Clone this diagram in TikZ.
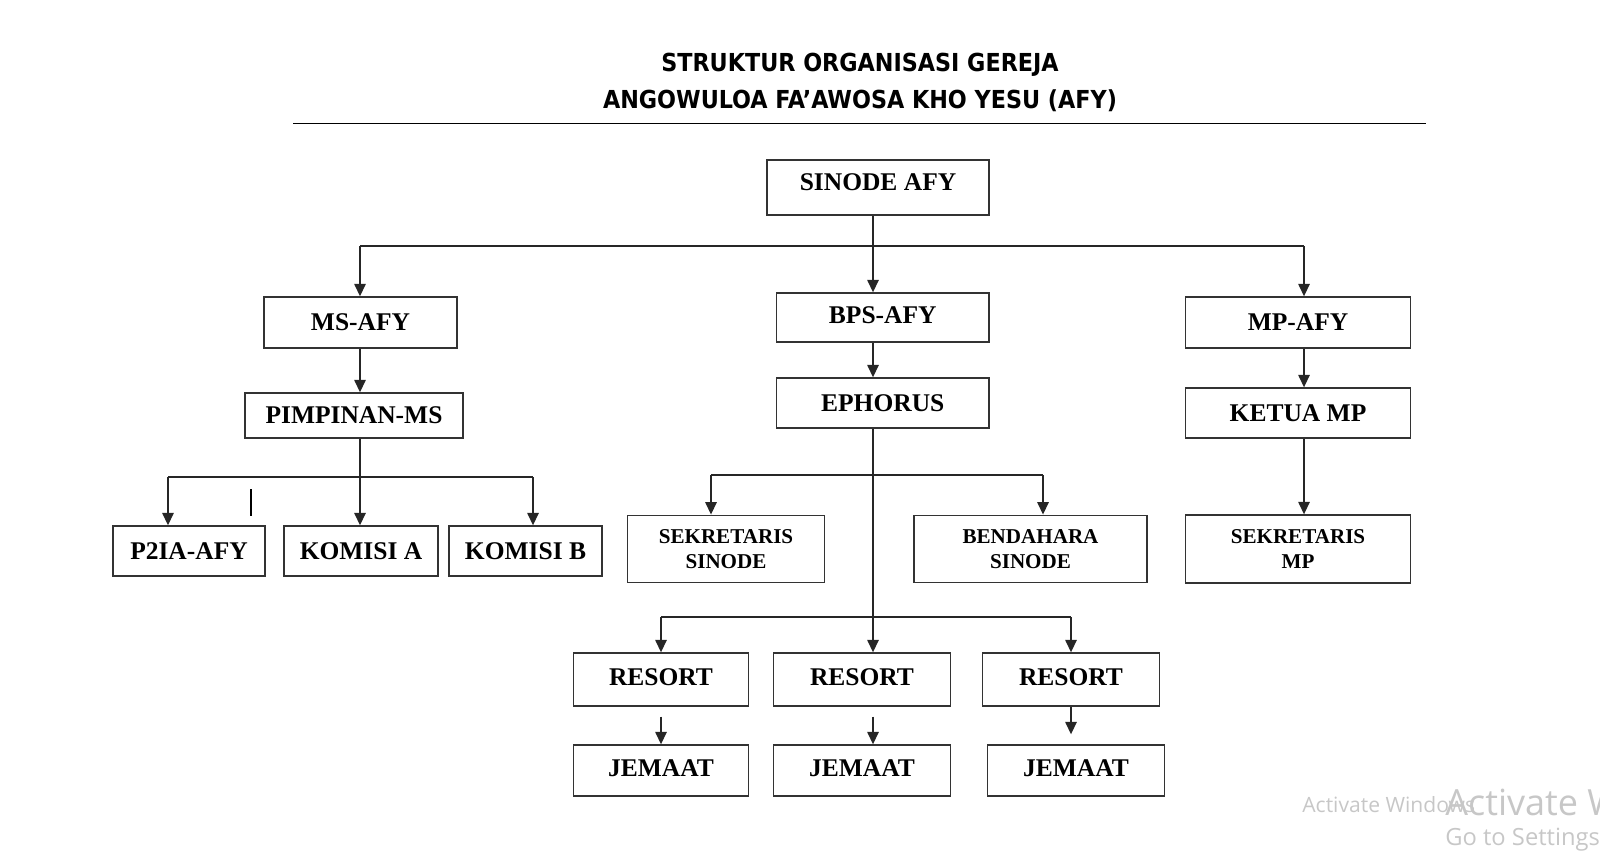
\documentclass[tikz,border=0pt]{standalone}
\usepackage{fontspec}
\setmainfont{Liberation Serif}
\newfontfamily\titlefont{DejaVu Sans Condensed}
\newfontfamily\winfont{Open Sans}
\usetikzlibrary{arrows.meta}

\begin{document}
\begin{tikzpicture}[x=0.2mm,y=-0.2mm,>={Triangle[length=2.5mm,width=2.3mm]}]
\tikzstyle{unit}=[draw=black!80, line width=0.8pt, inner sep=0pt, text=black, font=\bfseries\fontsize{14.5}{16}\selectfont]
\tikzstyle{unitsmall}=[unit, align=center, font=\bfseries\fontsize{12}{13.9}\selectfont]
\tikzstyle{link}=[draw=black!85, line width=0.85pt]
\tikzstyle{headline}=[font=\titlefont\bfseries\fontsize{14.1}{17}\selectfont]
\tikzstyle{watermark}=[text=black!22, anchor=base west, inner sep=0pt]

\useasboundingbox (0,0) rectangle (1600,862);
\clip (0,0) rectangle (1600,862);

% Title
\node[headline] (title1) at (860,65) {STRUKTUR ORGANISASI GEREJA};
\node[headline] (title2) at (860,101) {ANGOWULOA FA’AWOSA KHO YESU (AFY)};
\draw[line width=1.1pt] (293,123.5) -- (1425.5,123.5);

% Top and centre column
\node[unit, minimum width=44.4mm, minimum height=11mm, text depth=2mm] (sinode) at (878,187.5) {SINODE AFY};
\node[unit, minimum width=42.5mm, minimum height=9.8mm, text depth=0.8mm] (bps) at (882.75,317.5) {BPS-AFY};
\node[unit, minimum width=42.5mm, minimum height=10mm] (ephorus) at (882.75,403) {EPHORUS};
\node[unitsmall, minimum width=39.4mm, minimum height=13.5mm] (seksinode) at (726,549) {SEKRETARIS\\SINODE};
\node[unitsmall, minimum width=46.6mm, minimum height=13.5mm] (bendahara) at (1030.5,549) {BENDAHARA\\SINODE};

% Left column
\node[unit, minimum width=38.6mm, minimum height=10.2mm] (ms) at (360.5,322.5) {MS-AFY};
\node[unit, minimum width=43.6mm, minimum height=9mm] (pimpinan) at (354,415.5) {PIMPINAN-MS};
\node[unit, minimum width=30.4mm, minimum height=10mm] (p2ia) at (189,551) {P2IA-AFY};
\node[unit, minimum width=30.8mm, minimum height=10mm] (komisia) at (361,551) {KOMISI A};
\node[unit, minimum width=30.6mm, minimum height=10mm] (komisib) at (525.5,551) {KOMISI B};

% Right column
\node[unit, minimum width=44.9mm, minimum height=10.2mm] (mp) at (1298,322.5) {MP-AFY};
\node[unit, minimum width=44.9mm, minimum height=10mm] (ketua) at (1298,413) {KETUA MP};
\node[unitsmall, minimum width=44.9mm, minimum height=13.6mm] (sekmp) at (1298,549) {SEKRETARIS\\MP};

% Resort and jemaat
\node[unit, minimum width=35.1mm, minimum height=10.6mm, text depth=0.8mm] (resort1) at (661,679.5) {RESORT};
\node[unit, minimum width=35.3mm, minimum height=10.6mm, text depth=0.8mm] (resort2) at (862,679.5) {RESORT};
\node[unit, minimum width=35.3mm, minimum height=10.6mm, text depth=0.8mm] (resort3) at (1071,679.5) {RESORT};
\node[unit, minimum width=35.1mm, minimum height=10.2mm, text depth=0.8mm] (jemaat1) at (661,770.5) {JEMAAT};
\node[unit, minimum width=35.3mm, minimum height=10.2mm, text depth=0.8mm] (jemaat2) at (862,770.5) {JEMAAT};
\node[unit, minimum width=35.3mm, minimum height=10.2mm, text depth=0.8mm] (jemaat3) at (1076,770.5) {JEMAAT};

% Line positions
\coordinate (spine) at (873,0);
\coordinate (msline) at (360,0);
\coordinate (mpline) at (1304,0);
\coordinate (xp2ia) at (168,0);
\coordinate (xkomb) at (533,0);
\coordinate (xsek) at (711,0);
\coordinate (xben) at (1043,0);
\coordinate (topbar) at (0,246);
\coordinate (msbar) at (0,477);
\coordinate (bpsbar) at (0,475);
\coordinate (resbar) at (0,617);

% Connectors from the synod
\draw[link,->] (sinode.south -| spine) -- (bps.north -| spine);
\draw[link] (topbar -| msline) -- (topbar -| mpline);
\draw[link,->] (topbar -| msline) -- (ms.north -| msline);
\draw[link,->] (topbar -| mpline) -- (mp.north -| mpline);

% Left branch
\draw[link,->] (ms.south -| msline) -- (pimpinan.north -| msline);
\draw[link,->] (pimpinan.south -| msline) -- (komisia.north -| msline);
\draw[link] (msbar -| xp2ia) -- (msbar -| xkomb);
\draw[link,->] (msbar -| xp2ia) -- (p2ia.north -| xp2ia);
\draw[link,->] (msbar -| xkomb) -- (komisib.north -| xkomb);
\draw[line width=1.3pt] (251,489) -- (251,516);

% Centre branch
\draw[link,->] (bps.south -| spine) -- (ephorus.north -| spine);
\draw[link,->] (ephorus.south -| spine) -- (resort2.north -| spine);
\draw[link] (bpsbar -| xsek) -- (bpsbar -| xben);
\draw[link,->] (bpsbar -| xsek) -- (seksinode.north -| xsek);
\draw[link,->] (bpsbar -| xben) -- (bendahara.north -| xben);
\draw[link] (resbar -| resort1.north) -- (resbar -| resort3.north);
\draw[link,->] (resbar -| resort1.north) -- (resort1.north);
\draw[link,->] (resbar -| resort3.north) -- (resort3.north);
\draw[link,->,shorten <=2mm] (resort1.south) -- (jemaat1.north);
\draw[link,->,shorten <=2mm] (resort2.south -| spine) -- (jemaat2.north -| spine);
\draw[link,->,shorten >=2mm] (resort3.south) -- (resort3.south |- jemaat3.north);

% Right branch
\draw[link,->] (mp.south -| mpline) -- (ketua.north -| mpline);
\draw[link,->] (ketua.south -| mpline) -- (sekmp.north -| mpline);

% Screen overlay
\node[watermark, font=\winfont\fontsize{12}{12}\selectfont] (win1) at (1302,812) {Activate Windows};
\node[watermark, font=\winfont\fontsize{20.5}{20}\selectfont] (win2) at (1445,815) {Activate Windows};
\node[watermark, font=\winfont\fontsize{13.5}{14}\selectfont] (win3) at (1445,845) {Go to Settings};
\end{tikzpicture}
\end{document}
